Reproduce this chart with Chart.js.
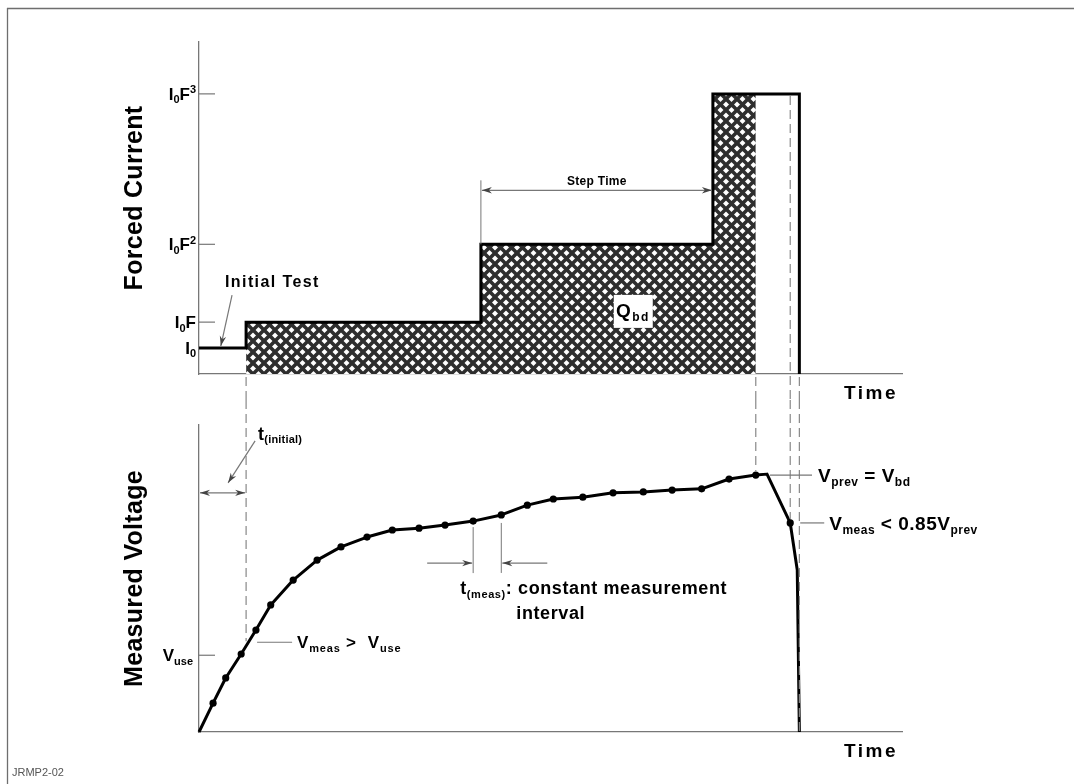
<!DOCTYPE html>
<html>
<head>
<meta charset="utf-8">
<script src="https://cdn.jsdelivr.net/npm/chart.js@4.4.0/dist/chart.umd.min.js"></script>
<style>
  html, body { margin: 0; padding: 0; background: #fff; }
  #wrap { position: relative; width: 1074px; height: 784px; overflow: hidden; }
  #topChart { position: absolute; left: 0; top: 0; }
  #bottomChart { position: absolute; left: 0; top: 400px; }
</style>
</head>
<body>
<div id="wrap">
  <canvas id="topChart" width="1074" height="400" style="width:1074px;height:400px"></canvas>
  <canvas id="bottomChart" width="1074" height="384" style="width:1074px;height:384px"></canvas>
</div>
<script>
// time in arbitrary units, 0..100 across the axis
const stepTimes = [0, 6.7, 40.1, 73.1, 85.4];
const currentLevels = [1, 2, 5, 10.8];          // I0, I0F, I0F^2, I0F^3
const currentTickLabels = ['I_{0}', 'I_{0}F', 'I_{0}F^{2}', 'I_{0}F^{3}'];
const breakdownTime = 79.2;   // V_prev = V_bd
const detectTime = 84.1;      // V_meas < 0.85 V_prev

const measTimes = [0, 2.0, 3.8, 6.0, 8.1, 10.2, 13.4, 16.8, 20.2, 23.9, 27.5, 31.3, 35.0, 39.0,
  43.0, 46.7, 50.4, 54.6, 58.9, 63.2, 67.3, 71.5, 75.4, 79.2, 80.8, 84.1, 85.1, 85.4];
const measVolts = [0, 9.4, 17.6, 25.4, 33.2, 41.4, 49.5, 56.0, 60.3, 63.5, 65.8, 66.4, 67.4, 68.7,
  70.7, 73.9, 75.9, 76.5, 77.9, 78.2, 78.8, 79.2, 82.4, 83.7, 84.0, 68.1, 52.8, 0];
const measDots = [0, 1, 1, 1, 1, 1, 1, 1, 1, 1, 1, 1, 1, 1, 1, 1, 1, 1, 1, 1, 1, 1, 1, 1, 0, 1, 0, 0];
const useVoltage = 25;

const FONT = '"Liberation Sans", Arial, sans-serif';
const GREY = '#777';

// --- helpers -------------------------------------------------------------
function richParts(s) {
  const parts = [];
  s.split(/(_\{[^}]*\}|\^\{[^}]*\})/).forEach(p => {
    if (!p) return;
    if (p[0] === '_') parts.push({ t: p.slice(2, -1), k: 'sub' });
    else if (p[0] === '^') parts.push({ t: p.slice(2, -1), k: 'sup' });
    else parts.push({ t: p, k: '' });
  });
  return parts;
}

function drawRich(ctx, s, x, y, size, align = 'left', spacing = 0) {
  const parts = richParts(s);
  const fontFor = k => `bold ${k ? Math.round(size * 0.62) : size}px ${FONT}`;
  ctx.save();
  ctx.fillStyle = '#000';
  ctx.textBaseline = 'alphabetic';
  ctx.textAlign = 'left';
  ctx.letterSpacing = spacing + 'px';
  let w = 0;
  parts.forEach(p => { ctx.font = fontFor(p.k); p.w = ctx.measureText(p.t).width; w += p.w; });
  let cx = align === 'right' ? x - w : align === 'center' ? x - w / 2 : x;
  parts.forEach(p => {
    ctx.font = fontFor(p.k);
    const dy = p.k === 'sub' ? size * 0.2 : p.k === 'sup' ? -size * 0.4 : 0;
    ctx.fillText(p.t, cx, y + dy);
    cx += p.w;
  });
  ctx.restore();
  return w;
}

function line(ctx, x1, y1, x2, y2, color = GREY, width = 1.2, dash = []) {
  ctx.save();
  ctx.strokeStyle = color;
  ctx.lineWidth = width;
  ctx.setLineDash(dash);
  ctx.beginPath();
  ctx.moveTo(x1, y1);
  ctx.lineTo(x2, y2);
  ctx.stroke();
  ctx.restore();
}

function arrow(ctx, x1, y1, x2, y2, both = false, color = '#444') {
  line(ctx, x1, y1, x2, y2, GREY, 1.2);
  const head = (ax, ay, bx, by) => {
    const a = Math.atan2(by - ay, bx - ax);
    ctx.save();
    ctx.fillStyle = color;
    ctx.translate(bx, by);
    ctx.rotate(a);
    ctx.beginPath();
    ctx.moveTo(0, 0);
    ctx.lineTo(-10, -3.2);
    ctx.lineTo(-7, 0);
    ctx.lineTo(-10, 3.2);
    ctx.closePath();
    ctx.fill();
    ctx.restore();
  };
  head(x1, y1, x2, y2);
  if (both) head(x2, y2, x1, y1);
}

const DASH = [9, 5];

function makeHatch() {
  const n = 11;
  const c = document.createElement('canvas');
  c.width = n; c.height = n;
  const g = c.getContext('2d');
  g.fillStyle = '#fff';
  g.fillRect(0, 0, n, n);
  g.strokeStyle = '#2e2e2e';
  g.lineWidth = 3.6;
  for (const o of [-n, 0, n]) {
    g.beginPath();
    g.moveTo(o - 1, -1); g.lineTo(o + n + 1, n + 1);
    g.moveTo(o + n + 1, -1); g.lineTo(o - 1, n + 1);
    g.stroke();
  }
  return g.createPattern(c, 'repeat');
}

const baseScales = (yMax) => ({
  x: {
    type: 'linear', min: 0, max: 100,
    grid: { display: false },
    ticks: { display: false },
    border: { color: GREY, width: 1.3 },
    afterFit: s => { s.height = 0; }
  },
  y: {
    type: 'linear', min: 0, max: yMax,
    grid: { display: false },
    ticks: { display: false },
    border: { color: GREY, width: 1.3 },
    afterFit: s => { s.width = 0; }
  }
});

// --- top panel: forced current ------------------------------------------
const stepPoints = stepTimes.map((t, i) => ({ x: t, y: currentLevels[Math.min(i, currentLevels.length - 1)] }));
stepPoints.push({ x: stepTimes[stepTimes.length - 1], y: 0 });

const hatchPoints = stepTimes.slice(1, 4).map((t, i) => ({ x: t, y: currentLevels[i + 1] }));
hatchPoints.push({ x: breakdownTime, y: currentLevels[3] });

const topAnnotations = {
  id: 'topAnnotations',
  afterDatasetsDraw(chart) {
    const ctx = chart.ctx;
    const X = v => chart.scales.x.getPixelForValue(v);
    const Y = v => chart.scales.y.getPixelForValue(v);
    const x0 = X(0), y0 = Y(0);

    // frame
    line(ctx, 7, 8.5, 1074, 8.5, '#6e6e6e', 1.3);
    line(ctx, 7.5, 8, 7.5, 400, '#6e6e6e', 1.3);

    // ticks and labels
    currentLevels.forEach((v, i) => {
      if (i > 0) line(ctx, x0, Y(v), x0 + 16, Y(v), GREY, 1.2);
      drawRich(ctx, currentTickLabels[i], x0 - 3, Y(v) + 6, 17, 'right');
    });

    // dashed guides
    line(ctx, X(stepTimes[1]), y0 + 3, X(stepTimes[1]), 400, '#888', 1.2, DASH);
    line(ctx, X(breakdownTime), y0 + 3, X(breakdownTime), 400, '#888', 1.2, DASH);
    line(ctx, X(detectTime), Y(currentLevels[3]) + 2, X(detectTime), 400, '#888', 1.2, DASH);
    line(ctx, X(stepTimes[4]), y0 + 3, X(stepTimes[4]), 400, '#888', 1.2, DASH);

    // Initial Test
    drawRich(ctx, 'Initial Test', X(3.7), Y(currentLevels[0]) - 61, 16, 'left', 1.4);
    arrow(ctx, X(4.7), Y(currentLevels[0]) - 53, X(3.1), Y(currentLevels[0]) - 2);

    // Step Time
    const ay = Y(currentLevels[2]) - 54;
    line(ctx, X(stepTimes[2]), Y(currentLevels[2]) - 64, X(stepTimes[2]), Y(currentLevels[2]), GREY, 1);
    arrow(ctx, X(stepTimes[2]) + 1, ay, X(stepTimes[3]) - 1, ay, true);
    drawRich(ctx, 'Step Time', (X(stepTimes[2]) + X(stepTimes[3])) / 2, ay - 5, 12, 'center', 0.3);

    // Q_bd box
    ctx.save();
    ctx.fillStyle = '#fff';
    ctx.fillRect(X(59.0), Y(3.05), 39, 33);
    ctx.restore();
    drawRich(ctx, 'Q_{bd}', X(59.3), Y(2.2), 19, 'left', 1.5);

    // axis title
    ctx.save();
    ctx.translate(x0 - 66, (Y(0) + Y(12.8)) / 2 - 10);
    ctx.rotate(-Math.PI / 2);
    drawRich(ctx, 'Forced Current', 0, 9, 25, 'center', 0.3);
    ctx.restore();

    drawRich(ctx, 'Time', X(100) - 4, y0 + 25, 19, 'right', 2.5);
  }
};

new Chart(document.getElementById('topChart'), {
  type: 'line',
  data: {
    datasets: [
      {
        label: 'Forced current',
        data: stepPoints,
        stepped: 'before',
        borderColor: '#000',
        borderWidth: 3,
        borderJoinStyle: 'miter',
        pointRadius: 0,
        fill: false,
        clip: false,
        order: 0
      },
      {
        label: 'Qbd',
        data: hatchPoints,
        stepped: 'before',
        borderWidth: 0,
        pointRadius: 0,
        backgroundColor: makeHatch(),
        fill: 'origin',
        order: 1
      }
    ]
  },
  options: {
    responsive: false,
    animation: false,
    layout: { padding: { left: 199, right: 172, top: 42, bottom: 26 } },
    plugins: { legend: { display: false }, tooltip: { enabled: false } },
    scales: baseScales(12.8)
  },
  plugins: [topAnnotations]
});

// --- bottom panel: measured voltage ------------------------------------
const bottomAnnotations = {
  id: 'bottomAnnotations',
  afterDatasetsDraw(chart) {
    const ctx = chart.ctx;
    const X = v => chart.scales.x.getPixelForValue(v);
    const Y = v => chart.scales.y.getPixelForValue(v);
    const x0 = X(0), y0 = Y(0);

    line(ctx, 7.5, 0, 7.5, 384, '#6e6e6e', 1.3);

    // V_use tick
    line(ctx, x0, Y(useVoltage), x0 + 16, Y(useVoltage), GREY, 1.2);
    drawRich(ctx, 'V_{use}', x0 - 6, Y(useVoltage) + 6, 17, 'right');

    // dashed guides
    const xi = X(stepTimes[1]);
    line(ctx, xi, 0, xi, Y(useVoltage) - 14, '#888', 1.2, DASH);
    line(ctx, X(breakdownTime), 0, X(breakdownTime), Y(83.7) - 4, '#888', 1.2, DASH);
    line(ctx, X(detectTime), 0, X(detectTime), Y(68.1) - 4, '#888', 1.2, DASH);
    line(ctx, X(stepTimes[4]), 0, X(stepTimes[4]), y0, '#888', 1.2, DASH);

    // t(initial)
    const ty = Y(77.9);
    arrow(ctx, x0 + 1, ty, xi - 1, ty, true);
    arrow(ctx, xi + 9, ty - 52, xi - 18, ty - 10);
    drawRich(ctx, 't_{(initial)}', xi + 12, ty - 53, 18, 'left', 0.2);

    // V_meas > V_use
    const ly = Y(useVoltage) - 13;
    line(ctx, xi + 11, ly, xi + 46, ly, GREY, 1.2);
    drawRich(ctx, 'V_{meas} >  V_{use}', xi + 51, ly + 6, 17, 'left', 0.8);

    // t(meas)
    const ma = X(measTimes[13]), mb = X(measTimes[14]);
    line(ctx, ma, Y(measVolts[13]) + 6, ma, Y(measVolts[13]) + 52, GREY, 1);
    line(ctx, mb, Y(measVolts[14]) + 8, mb, Y(measVolts[14]) + 58, GREY, 1);
    const my = Y(measVolts[13]) + 42;
    arrow(ctx, ma - 46, my, ma - 1, my);
    arrow(ctx, mb + 46, my, mb + 1, my);
    drawRich(ctx, 't_{(meas)}: constant measurement', ma - 13, my + 31, 18, 'left', 0.6);
    drawRich(ctx, 'interval', mb + 15, my + 56, 18, 'left', 0.6);

    // V_prev = V_bd
    const py = Y(83.7);
    line(ctx, X(80.8) + 3, py, X(80.8) + 45, py, GREY, 1.2);
    drawRich(ctx, 'V_{prev} = V_{bd}', X(80.8) + 51, py + 7, 19, 'left', 0.5);

    // V_meas < 0.85 V_prev
    const qy = Y(68.1);
    line(ctx, X(detectTime) + 10, qy, X(detectTime) + 34, qy, GREY, 1.2);
    drawRich(ctx, 'V_{meas} < 0.85V_{prev}', X(detectTime) + 39, qy + 7, 19, 'left', 0.5);

    // axis title
    ctx.save();
    ctx.translate(x0 - 66, (Y(0) + Y(100)) / 2);
    ctx.rotate(-Math.PI / 2);
    drawRich(ctx, 'Measured Voltage', 0, 9, 25, 'center', 0.3);
    ctx.restore();

    drawRich(ctx, 'Time', X(100) - 4, y0 + 25, 19, 'right', 2.5);

    ctx.save();
    ctx.fillStyle = '#555';
    ctx.font = `11px ${FONT}`;
    ctx.fillText('JRMP2-02', 12, 376);
    ctx.restore();
  }
};

new Chart(document.getElementById('bottomChart'), {
  type: 'line',
  data: {
    datasets: [{
      label: 'Measured voltage',
      data: measTimes.map((t, i) => ({ x: t, y: measVolts[i] })),
      borderColor: '#000',
      borderWidth: 3,
      borderJoinStyle: 'round',
      tension: 0,
      pointRadius: measDots.map(d => d ? 3.6 : 0),
      pointBackgroundColor: '#000',
      pointBorderWidth: 0,
      fill: false,
      clip: false
    }]
  },
  options: {
    responsive: false,
    animation: false,
    layout: { padding: { left: 199, right: 172, top: 25, bottom: 52 } },
    plugins: { legend: { display: false }, tooltip: { enabled: false } },
    scales: baseScales(100)
  },
  plugins: [bottomAnnotations]
});
</script>
</body>
</html>
